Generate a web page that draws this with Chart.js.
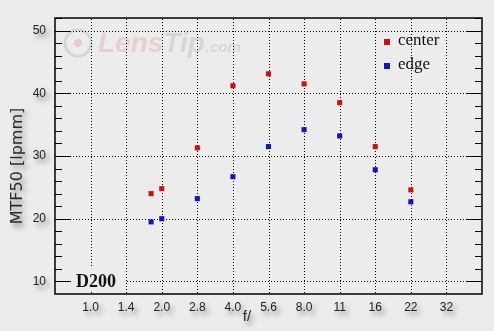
<!DOCTYPE html>
<html>
<head>
<meta charset="utf-8">
<script src="https://cdn.jsdelivr.net/npm/chart.js@4/dist/chart.umd.min.js"></script>
<style>
  html, body { margin: 0; padding: 0; background: #ececec; }
  #wrap { width: 494px; height: 331px; }
</style>
</head>
<body>
<div id="wrap"><canvas id="mtf"></canvas></div>
<script>
// f-stop tick labels (one per stop)
const stopLabels = ['1.0', '1.4', '2.0', '2.8', '4.0', '5.6', '8.0', '11', '16', '22', '32'];
// measured apertures, and their position in stops (1.0 = 0)
const apertures = ['1.8', '2.0', '2.8', '4.0', '5.6', '8.0', '11', '16', '22'];
const apertureStops = [1.7, 2, 3, 4, 5, 6, 7, 8, 9];
const centerValues = [24.0, 24.8, 31.3, 41.2, 43.1, 41.5, 38.5, 31.5, 24.6];
const edgeValues = [19.5, 20.0, 23.2, 26.7, 31.5, 34.2, 33.2, 27.8, 22.7];

const RED = '#cc1111';
const BLUE = '#1414b8';

const toPoints = vals => vals.map((v, i) => ({ x: apertureStops[i], y: v }));

const shadowOn = {
  id: 'shadowOn',
  beforeDraw(chart) {
    const ctx = chart.ctx;
    ctx.save();
    ctx.shadowColor = 'rgba(70,70,70,0.6)';
    ctx.shadowBlur = 5;
    ctx.shadowOffsetX = 3;
    ctx.shadowOffsetY = 4;
    // axis titles
    ctx.fillStyle = '#2a2a2a';
    ctx.textAlign = 'center';
    ctx.textBaseline = 'middle';
    ctx.font = '15px "Liberation Sans", Arial, sans-serif';
    ctx.fillText('f/', 247, 317);
    ctx.save();
    ctx.translate(18, 166);
    ctx.rotate(-Math.PI / 2);
    ctx.font = '16px "DejaVu Sans", Verdana, sans-serif';
    ctx.fillText('MTF50 [lpmm]', 0, 0);
    ctx.restore();
  },
  beforeDatasetsDraw(chart) {
    const ctx = chart.ctx;
    ctx.restore();
    const { left, right, top, bottom } = chart.chartArea;
    const xs = chart.scales.x, ys = chart.scales.y;

    // watermark
    ctx.save();
    ctx.strokeStyle = '#d6d6d6';
    ctx.lineWidth = 3;
    ctx.beginPath();
    ctx.arc(78, 43, 13, 0, Math.PI * 2);
    ctx.stroke();
    ctx.fillStyle = '#e8cccc';
    ctx.beginPath();
    ctx.arc(78, 43, 4, 0, Math.PI * 2);
    ctx.fill();
    ctx.font = 'italic bold 28px "Liberation Sans", Arial, sans-serif';
    ctx.textBaseline = 'middle';
    ctx.fillStyle = '#e8d0d0';
    ctx.fillText('Lens', 98, 44);
    const w = ctx.measureText('Lens').width;
    ctx.fillStyle = '#d6d6d6';
    ctx.fillText('Tip', 98 + w, 44);
    const w2 = ctx.measureText('Tip').width;
    ctx.font = 'italic bold 15px "Liberation Sans", Arial, sans-serif';
    ctx.fillText('.com', 98 + w + w2 + 1, 48);
    ctx.restore();

    // dotted grid
    ctx.save();
    ctx.strokeStyle = '#000';
    ctx.lineWidth = 1;
    ctx.setLineDash([1, 2]);
    stopLabels.forEach((_, i) => {
      const x = Math.round(xs.getPixelForValue(i)) + 0.5;
      ctx.beginPath();
      ctx.moveTo(x, top + 1);
      ctx.lineTo(x, bottom - 1);
      ctx.stroke();
    });
    for (let v = 10; v <= 50; v += 10) {
      const y = Math.round(ys.getPixelForValue(v)) + 0.5;
      ctx.beginPath();
      ctx.moveTo(left + 15, y);
      ctx.lineTo(right - 15, y);
      ctx.stroke();
    }
    ctx.setLineDash([]);

    // inward ticks on both sides
    for (let v = 10; v <= 52; v += 2) {
      const y = Math.round(ys.getPixelForValue(v)) + 0.5;
      const len = v % 10 === 0 ? 15 : 7;
      ctx.beginPath();
      ctx.moveTo(left, y); ctx.lineTo(left + len, y);
      ctx.moveTo(right, y); ctx.lineTo(right - len, y);
      ctx.stroke();
    }

    // frame
    ctx.lineWidth = 1.5;
    ctx.strokeRect(left, top, right - left, bottom - top);

    // camera label
    ctx.fillStyle = '#ececec';
    ctx.fillRect(left + 17, bottom - 26, 53, 24);
    ctx.fillStyle = '#111';
    ctx.font = 'bold 18px "Liberation Serif", "Times New Roman", serif';
    ctx.textBaseline = 'middle';
    ctx.fillText('D200', left + 21, ys.getPixelForValue(10) + 1);
    ctx.restore();
  },
  afterDraw(chart) {
    const ctx = chart.ctx;
    ctx.save();
    ctx.font = '17px "Liberation Serif", "Times New Roman", serif';
    ctx.textBaseline = 'middle';
    chart.data.datasets.forEach((ds, i) => {
      const y = 42 + i * 24;
      ctx.fillStyle = ds.backgroundColor;
      ctx.fillRect(384, y - 3, 6, 6);
      ctx.fillStyle = '#111';
      ctx.fillText(ds.label, 398, y - 1);
    });
    ctx.restore();
  }
};

new Chart(document.getElementById('mtf'), {
  type: 'scatter',
  data: {
    datasets: [
      { label: 'center', data: toPoints(centerValues), backgroundColor: RED, borderColor: RED, borderWidth: 0, pointStyle: 'rect', pointRadius: 3.6 },
      { label: 'edge', data: toPoints(edgeValues), backgroundColor: BLUE, borderColor: BLUE, borderWidth: 0, pointStyle: 'rect', pointRadius: 3.6 }
    ]
  },
  options: {
    responsive: true,
    maintainAspectRatio: false,
    animation: false,
    layout: { padding: { top: 18, right: 12, left: 0, bottom: 0 } },
    plugins: { legend: { display: false }, tooltip: { enabled: false } },
    scales: {
      x: {
        type: 'linear',
        min: -1,
        max: 11,
        afterBuildTicks: s => { s.ticks = stopLabels.map((_, i) => ({ value: i })); },
        afterFit: s => { s.height = 37; },
        grid: { display: false, drawTicks: false },
        border: { display: false },
        ticks: {
          autoSkip: false,
          maxRotation: 0,
          padding: 6,
          color: '#222',
          font: { family: '"Liberation Sans", Arial, sans-serif', size: 12 },
          callback: v => stopLabels[v]
        },
        title: { display: false }
      },
      y: {
        min: 8,
        max: 52,
        afterBuildTicks: s => { s.ticks = [10, 20, 30, 40, 50].map(v => ({ value: v })); },
        afterFit: s => { s.width = 55; },
        grid: { display: false, drawTicks: false },
        border: { display: false },
        ticks: {
          padding: 9,
          color: '#222',
          font: { family: '"Liberation Sans", Arial, sans-serif', size: 12 }
        },
        title: { display: false }
      }
    }
  },
  plugins: [shadowOn]
});
</script>
</body>
</html>
